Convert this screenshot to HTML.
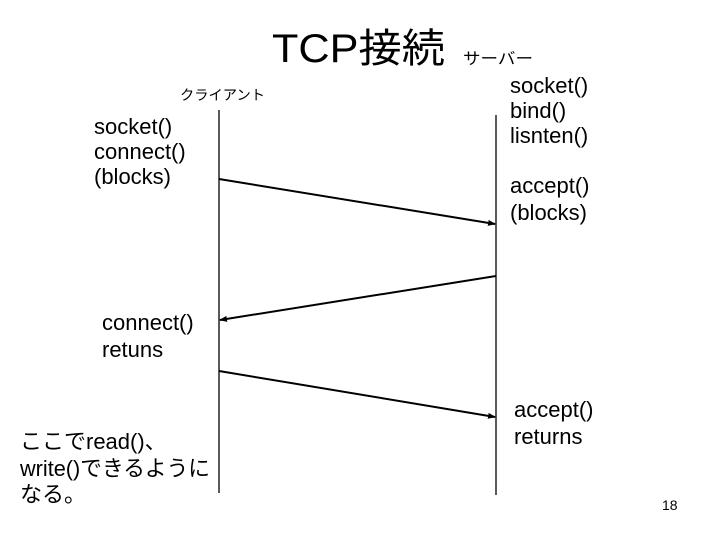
<!DOCTYPE html>
<html><head><meta charset="utf-8"><style>
html,body{margin:0;padding:0;background:#fff;}
svg{display:block}
text{font-family:"Liberation Sans","Noto Sans CJK JP",sans-serif;fill:#000}
</style></head><body>
<svg width="720" height="540" viewBox="0 0 720 540" xmlns="http://www.w3.org/2000/svg">
<defs><marker id="a" markerWidth="8" markerHeight="8" refX="7" refY="4" orient="auto" markerUnits="userSpaceOnUse"><path d="M0,1 L8,4 L0,7z" fill="#000"/></marker></defs>
<text x="272" y="62" font-size="40" textLength="173" lengthAdjust="spacingAndGlyphs">TCP接続</text>
<text x="463" y="64" font-size="16" textLength="70" lengthAdjust="spacingAndGlyphs">サーバー</text>
<text x="180" y="100" font-size="14" textLength="85" lengthAdjust="spacingAndGlyphs">クライアント</text>
<g font-size="22">
<text x="94" y="134">socket()</text>
<text x="94" y="159">connect()</text>
<text x="94" y="184">(blocks)</text>
<text x="510" y="93">socket()</text>
<text x="510" y="118">bind()</text>
<text x="510" y="143">lisnten()</text>
<text x="510" y="193">accept()</text>
<text x="510" y="220">(blocks)</text>
<text x="102" y="330">connect()</text>
<text x="102" y="357">retuns</text>
<text x="20" y="449">ここでread()、</text>
<text x="20" y="476" textLength="190" lengthAdjust="spacingAndGlyphs">write()できるように</text>
<text x="20" y="502">なる。</text>
<text x="514" y="417">accept()</text>
<text x="514" y="444">returns</text>
</g>
<text x="662" y="510" font-size="14">18</text>
<g stroke="#000" stroke-width="1.3">
<line x1="219" y1="110" x2="219" y2="493"/>
<line x1="496" y1="115" x2="496" y2="495"/>
</g>
<g stroke="#000" stroke-width="2">
<line x1="219" y1="179" x2="495" y2="224" marker-end="url(#a)"/>
<line x1="496" y1="276" x2="220" y2="320" marker-end="url(#a)"/>
<line x1="219" y1="371" x2="495" y2="417" marker-end="url(#a)"/>
</g>
</svg>
</body></html>
